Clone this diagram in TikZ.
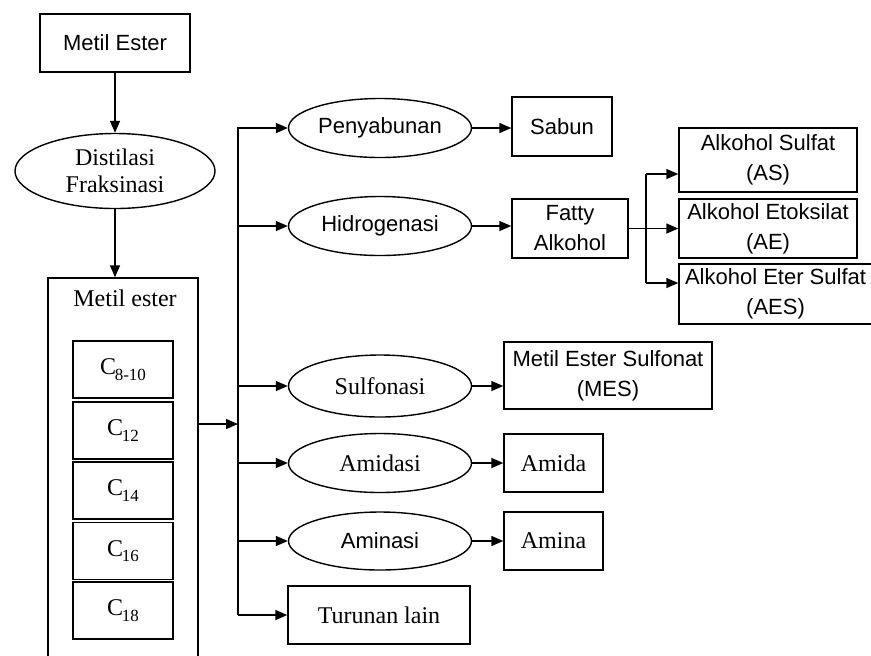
\documentclass[tikz,border=0pt]{standalone}
\usepackage{fontspec}
\setmainfont{Liberation Serif}
\newfontfamily\arialf{Liberation Sans}
\usetikzlibrary{arrows.meta,shapes.geometric}
\newcommand{\sansT}{\arialf\fontsize{11}{15}\selectfont}
\newcommand{\serifT}{\rmfamily\fontsize{12}{14}\selectfont}
\newcommand{\Csub}[1]{C\kern-0.05em\raisebox{-0.5ex}{\fontsize{8.5}{9}\selectfont #1}}
\begin{document}
\begin{tikzpicture}[x=0.5pt,y=-0.5pt,
  line width=0.7pt,
  arr/.style={-{Triangle[length=6pt,width=5pt]}},
  bx/.style={draw, rectangle, inner sep=0pt, align=center},
  ell/.style={draw, ellipse, inner sep=0pt, minimum width=91.5pt, minimum height=29.5pt, align=center},
  sf/.style={font=\sansT},
  rf/.style={font=\serifT},
  cbox/.style={bx, rf, minimum width=50pt, minimum height=28.5pt}
]
\useasboundingbox (0,0) rectangle (871,655);
\clip (0,0) rectangle (871,655);

% left column
\node[bx, sf, minimum width=75pt, minimum height=29pt] (me) at (115,43) {Metil Ester};
\node[draw, ellipse, inner sep=0pt, minimum width=100pt, minimum height=37.5pt, align=center, font=\rmfamily\fontsize{12}{13.5}\selectfont] (dist) at (115,171) {Distilasi\\Fraksinasi};
\node[bx, minimum width=75pt, minimum height=211pt] (big) at (123,489) {};
\node[rf] (melbl) at (125,298) {Metil ester};
\node[cbox] (c1) at (123,369.5) {\Csub{8-10}};
\node[cbox] (c2) at (123,430.5) {\Csub{12}};
\node[cbox] (c3) at (123,490.5) {\Csub{14}};
\node[cbox] (c4) at (123,551) {\Csub{16}};
\node[cbox] (c5) at (123,610.5) {\Csub{18}};

\draw[arr] (me) -- (dist);
\draw[arr] (dist.south) -- (dist.south |- big.north);

% junction
\coordinate (jtop) at (238,127);
\coordinate (jbot) at (238,615);
\coordinate (jin) at (238,424);
\draw[arr] (big.east |- jin) -- (jin);
\draw (jtop) -- (jbot);

% middle column
\node[ell, sf] (peny) at (380,128) {Penyabunan};
\node[ell, sf] (hidro) at (380,226) {Hidrogenasi};
\node[ell, rf, minimum height=31pt] (sulf) at (380,386) {Sulfonasi};
\node[ell, rf] (amid) at (380,463) {Amidasi};
\node[ell, sf, minimum height=29pt] (amin) at (380,541) {Aminasi};
\node[bx, rf, minimum width=91pt, minimum height=29pt] (tur) at (379,615) {Turunan lain};

\draw[arr, line width=1pt] (jtop |- peny.west) -- (peny.west);
\draw[arr] (jtop |- hidro.west) -- (hidro.west);
\draw[arr] (jtop |- sulf.west) -- (sulf.west);
\draw[arr] (jtop |- amid.west) -- (amid.west);
\draw[arr] (jtop |- amin.west) -- (amin.west);
\draw[arr] (jbot) -- (tur.west);

% right column
\node[bx, sf, minimum width=50pt, minimum height=29.5pt] (sabun) at (562,126.5) {Sabun};
\node[bx, sf, minimum width=58pt, minimum height=29.5pt] (fatty) at (570,228.5) {Fatty\\Alkohol};
\node[bx, sf, minimum width=104pt, minimum height=33.5pt] (mes) at (608,375.5) {Metil Ester Sulfonat\\(MES)};
\node[bx, rf, minimum width=49.5pt, minimum height=29pt] (amida) at (553.5,463) {Amida};
\node[bx, rf, minimum width=49.5pt, minimum height=29pt] (amina) at (553.5,541) {Amina};

\draw[arr] (peny.east) -- (peny.east -| sabun.west);
\draw[arr] (hidro.east) -- (hidro.east -| fatty.west);
\draw[arr] (sulf.east) -- (sulf.east -| mes.west);
\draw[arr] (amid.east) -- (amid.east -| amida.west);
\draw[arr] (amin.east) -- (amin.east -| amina.west);

% alcohol derivatives
\node[bx, sf, minimum width=89pt, minimum height=32pt] (as) at (768,160) {Alkohol Sulfat\\(AS)};
\node[bx, sf, minimum width=89pt, minimum height=29.5pt] (ae) at (768,228.5) {Alkohol Etoksilat\\(AE)};
\node[bx, sf, minimum width=96.5pt, minimum height=30pt] (aes) at (775.5,294) {Alkohol Eter Sulfat\\(AES)};

\coordinate (fj) at (646,228.5);
\coordinate (fjt) at (646,174);
\coordinate (fjb) at (646,283);
\draw (fatty.east) -- (fj);
\draw (fjt) -- (fjb);
\draw[arr] (fjt) -- (fjt -| as.west);
\draw[arr] (fj) -- (ae.west);
\draw[arr] (fjb) -- (fjb -| aes.west);
\end{tikzpicture}
\end{document}
